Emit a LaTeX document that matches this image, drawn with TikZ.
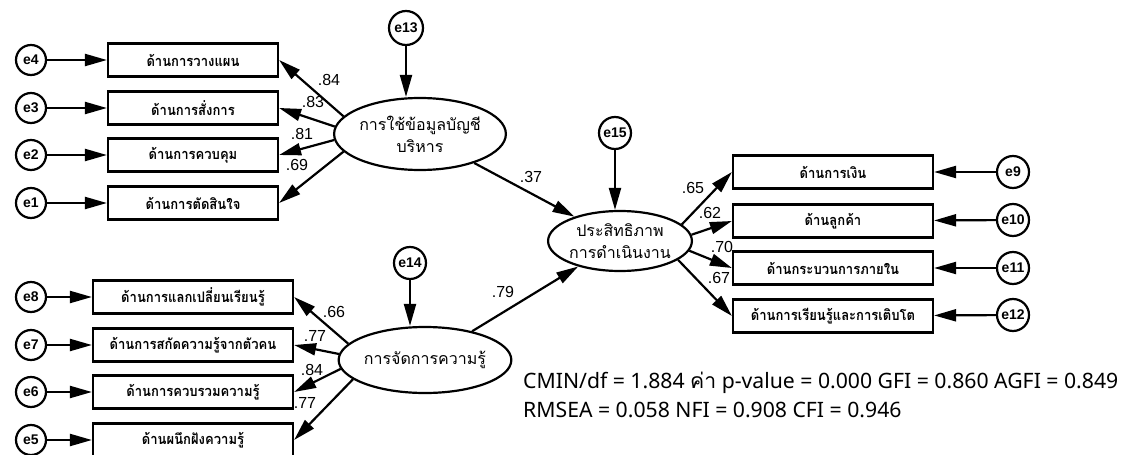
\documentclass[tikz,border=0pt]{standalone}
\usepackage{fontspec}
\setmainfont{Liberation Sans}
\newfontfamily\thaifont[Script=Thai]{Loma}
\newfontfamily\boxfont[Script=Thai,FakeStretch=0.9]{Loma}
\newfontfamily\statfont{Noto Sans}
\newfontfamily\statthai[Script=Thai]{Loma}
\usetikzlibrary{arrows.meta,shapes.geometric}
\tikzset{
  errvar/.style={circle, draw, line width=2.2pt, minimum size=30pt, inner sep=0pt,
    font=\fontsize{14}{14}\selectfont\bfseries},
  indbox/.style={rectangle, draw, line width=2.2pt, minimum height=33pt, inner sep=2pt,
    font=\boxfont\fontsize{14.5}{14.5}\selectfont\bfseries},
  latent/.style={ellipse, draw, line width=2.2pt, inner sep=0pt, align=center,
    font=\thaifont\fontsize{16}{22}\selectfont},
  loadline/.style={line width=2.2pt, -{Triangle[length=22pt,width=12pt]}},
  coef/.style={inner sep=1pt, font=\fontsize{16}{16}\selectfont},
  statline/.style={anchor=west, inner sep=0pt, font=\statfont\fontsize{21.2}{21.2}\selectfont},
}
\begin{document}
\begin{tikzpicture}[x=1pt,y=-1pt]
  \useasboundingbox (0,0) rectangle (1125,455);

  % --- latent variables ---
  \node[latent, minimum width=140pt, minimum height=72pt] (acc) at (420,134) {การใช้ข้อมูลบัญชี\\บริหาร};
  \node[latent, minimum width=140pt, minimum height=66pt] (km) at (425,360) {การจัดการความรู้};
  \node[latent, minimum width=130pt, minimum height=60pt] (perf) at (620,241) {ประสิทธิภาพ\\การดำเนินงาน};

  % residuals of latents
  \node[errvar, minimum size=34pt] (e13) at (406,28) {e13};
  \node[errvar, minimum size=32pt] (e14) at (410,263) {e14};
  \node[errvar, minimum size=32pt] (e15) at (615,133) {e15};
  \draw[loadline] (e13) -- (e13 |- acc.north);
  \draw[loadline] (e14) -- (e14 |- km.north);
  \draw[loadline] (e15) -- (e15 |- perf.north);

  % --- top left: indicators of acc ---
  \node[indbox, minimum width=170pt] (plan) at (193,60) {ด้านการวางแผน};
  \node[indbox, minimum width=170pt] (cmd) at (193,108) {ด้านการสั่งการ};
  \node[indbox, minimum width=170pt] (ctrl) at (193,155) {ด้านการควบคุม};
  \node[indbox, minimum width=170pt] (dec) at (193,203) {ด้านการตัดสินใจ};
  \node[errvar] (e4) at (31,60) {e4};
  \node[errvar] (e3) at (31,108) {e3};
  \node[errvar] (e2) at (31,155) {e2};
  \node[errvar] (e1) at (31,203) {e1};
  \foreach \e/\b/\a in {e4/plan/167, e3/cmd/175, e2/ctrl/184, e1/dec/193}{
    \draw[loadline] (\e) -- (\b);
    \draw[loadline] (acc.\a) -- (\b.east);
  }
  \node[coef] (l84) at (329,80) {.84};
  \node[coef] (l83) at (313,102) {.83};
  \node[coef] (l81) at (302,134) {.81};
  \node[coef] (l69) at (297,165) {.69};

  % --- bottom left: indicators of km ---
  \node[indbox, minimum width=200pt] (share) at (193,297) {ด้านการแลกเปลี่ยนเรียนรู้};
  \node[indbox, minimum width=200pt] (extr) at (193,345) {ด้านการสกัดความรู้จากตัวคน};
  \node[indbox, minimum width=200pt] (coll) at (193,392) {ด้านการควบรวมความรู้};
  \node[indbox, minimum width=200pt] (embed) at (193,440) {ด้านผนึกฝังความรู้};
  \node[errvar] (e8) at (31,297) {e8};
  \node[errvar] (e7) at (31,345) {e7};
  \node[errvar] (e6) at (31,392) {e6};
  \node[errvar] (e5) at (31,440) {e5};
  \foreach \e/\b/\a in {e8/share/168, e7/extr/176, e6/coll/186, e5/embed/195}{
    \draw[loadline] (\e) -- (\b);
    \draw[loadline] (km.\a) -- (\b.east);
  }
  \node[coef] (l66) at (334,312) {.66};
  \node[coef] (l77a) at (315,336) {.77};
  \node[coef] (l84b) at (312,370) {.84};
  \node[coef] (l77b) at (305,403) {.77};

  % --- structural paths ---
  \draw[loadline] (acc) -- (perf);
  \draw[loadline] (km) -- (perf);
  \node[coef] (l37) at (531,177) {.37};
  \node[coef] (l79) at (503,292) {.79};

  % --- right: indicators of perf ---
  \node[indbox, minimum width=200pt] (fin) at (833,172) {ด้านการเงิน};
  \node[indbox, minimum width=200pt] (cust) at (833,221) {ด้านลูกค้า};
  \node[indbox, minimum width=200pt] (proc) at (833,268) {ด้านกระบวนการภายใน};
  \node[indbox, minimum width=200pt] (grow) at (833,316) {ด้านการเรียนรู้และการเติบโต};
  \node[errvar, minimum size=32pt] (e9) at (1013,172) {e9};
  \node[errvar, minimum size=32pt] (e10) at (1013,220) {e10};
  \node[errvar, minimum size=32pt] (e11) at (1013,268) {e11};
  \node[errvar, minimum size=32pt] (e12) at (1013,315) {e12};
  \foreach \e/\b/\a in {e9/fin/15, e10/cust/5, e11/proc/-8, e12/grow/-18}{
    \draw[loadline] (\e) -- (\b);
    \draw[loadline] (perf.\a) -- (\b.west);
  }
  \node[coef] (l65) at (693,188) {.65};
  \node[coef] (l62) at (710,213) {.62};
  \node[coef] (l70) at (722,247) {.70};
  \node[coef] (l67) at (719,278) {.67};

  % --- fit indices ---
  \node[statline] (fit1) at (523,383) {CMIN/df = 1.884 {\statthai ค่า} p-value = 0.000 GFI = 0.860 AGFI = 0.849};
  \node[statline] (fit2) at (523,410) {RMSEA = 0.058 NFI = 0.908 CFI = 0.946};
\end{tikzpicture}
\end{document}
